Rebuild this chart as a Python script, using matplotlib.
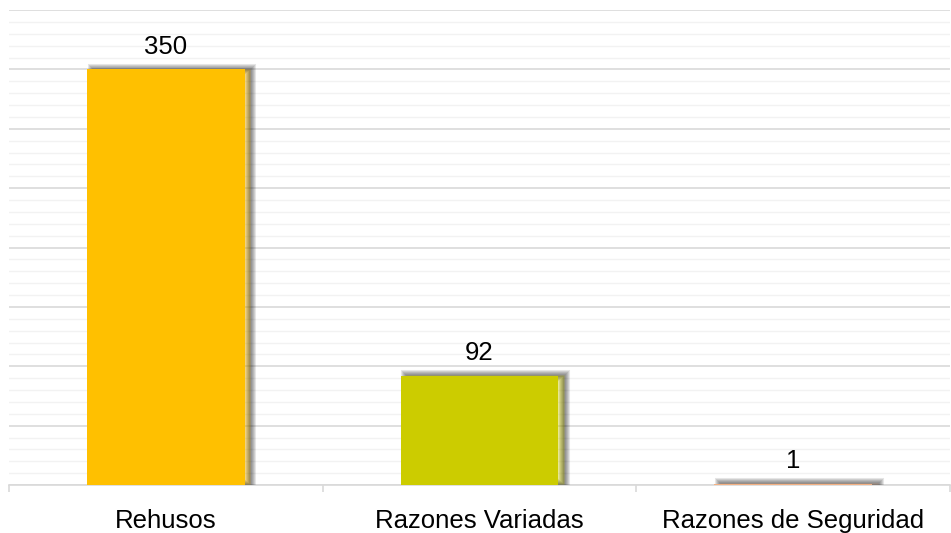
import matplotlib.pyplot as plt
import matplotlib.patheffects as pe
import numpy as np

# data
categories = ["Rehusos", "Razones Variadas", "Razones de Seguridad"]
values = [350, 92, 1]
colors = ["#FFC000", "#CCCC00", "#F4B183"]

plt.rcParams['font.family'] = ['Liberation Sans', 'DejaVu Sans']

fig = plt.figure(figsize=(9.51, 5.33), dpi=100)
ax = fig.add_axes([9 / 951, 48 / 533, 941 / 951, 475 / 533])

x = np.arange(len(categories))

# soft shadow made of stacked strokes, offset to the right
shadow = [pe.Stroke(linewidth=w, foreground='black', alpha=0.1, offset=(4, 0.5))
          for w in (8, 6.5, 5, 3.5, 2)] + [pe.Normal()]

bars = ax.bar(x, values, width=0.503, color=colors, zorder=3)
for b in bars:
    b.set_path_effects(shadow)

for xi, v in zip(x, values):
    ax.annotate(str(v), (xi, v), xytext=(0, 7.5), textcoords='offset points',
                ha='center', va='bottom', fontsize=18.5, color='black', zorder=4)

ax.set_ylim(0, 400)
ax.set_xlim(-0.5, 2.5)

ax.set_yticks(np.arange(0, 401, 50))
ax.set_yticks(np.arange(0, 401, 10), minor=True)
ax.grid(axis='y', which='major', color='#D9D9D9', linewidth=1.2, zorder=0)
ax.grid(axis='y', which='minor', color='#F2F2F2', linewidth=1.0, zorder=0)
ax.set_axisbelow(True)
ax.tick_params(axis='y', which='both', left=False, labelleft=False)

# tick marks at category boundaries, labels at centers
ax.set_xticks([-0.5, 0.5, 1.5, 2.5])
ax.set_xticklabels([])
ax.set_xticks(x, minor=True)
ax.set_xticklabels(categories, minor=True)
ax.tick_params(axis='x', which='major', length=5, color='#D9D9D9', width=1.2)
ax.tick_params(axis='x', which='minor', length=0, pad=17, labelsize=18.5)

for s in ['left', 'right', 'top']:
    ax.spines[s].set_visible(False)
ax.spines['bottom'].set_color('#D9D9D9')
ax.spines['bottom'].set_linewidth(1.2)

fig.savefig("out.png", dpi=100)
